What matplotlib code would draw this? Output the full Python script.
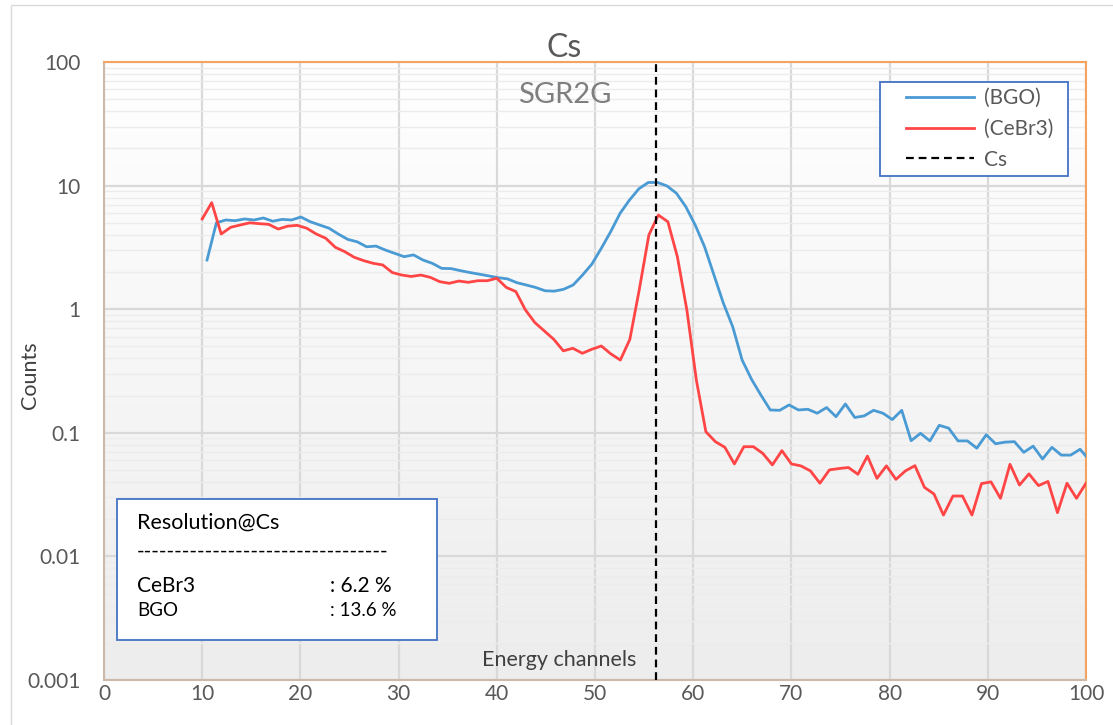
import numpy as np
import matplotlib.pyplot as plt
from matplotlib.patches import Rectangle
from matplotlib.colors import LinearSegmentedColormap

plt.rcParams['font.family'] = ['Lato', 'DejaVu Sans']

# CeBr3 spectrum (counts per channel), channels 10..100
cebr3_x = np.linspace(10, 100, 94)
cebr3 = [5.37, 7.28, 4.06, 4.6, 4.8, 5.0, 4.92, 4.86, 4.45, 4.7,
         4.77, 4.52, 4.06, 3.75, 3.17, 2.92, 2.63, 2.47, 2.35, 2.28,
         1.98, 1.89, 1.84, 1.89, 1.81, 1.67, 1.62, 1.69, 1.65, 1.70,
         1.70, 1.78, 1.50, 1.39, 0.99, 0.78, 0.667, 0.57, 0.46, 0.483,
         0.44, 0.474, 0.504, 0.435, 0.388, 0.57, 1.45, 3.98, 5.78, 5.1,
         2.66, 0.985, 0.267, 0.102, 0.0848, 0.0763, 0.056, 0.0772, 0.0772, 0.068,
         0.055, 0.0717, 0.056, 0.054, 0.0492, 0.0391, 0.0501, 0.0514, 0.0524, 0.0462,
         0.0648, 0.0428, 0.054, 0.042, 0.0492, 0.0542, 0.0362, 0.032, 0.0216, 0.0308,
         0.0308, 0.0216, 0.0388, 0.0401, 0.0295, 0.0556, 0.0378, 0.0465, 0.0374, 0.0404,
         0.0226, 0.0391, 0.0295, 0.0391]

# BGO spectrum, its own channel calibration
bgo_x = 10.49 + 0.956 * np.arange(95)
bgo = [2.5, 5.0, 5.27, 5.2, 5.37, 5.27, 5.47, 5.15, 5.33, 5.27,
       5.57, 5.1, 4.8, 4.52, 4.05, 3.67, 3.51, 3.2, 3.24, 3.01,
       2.83, 2.66, 2.75, 2.5, 2.35, 2.14, 2.13, 2.05, 1.98, 1.92,
       1.86, 1.8, 1.76, 1.64, 1.57, 1.5, 1.41, 1.40, 1.45, 1.57,
       1.89, 2.32, 3.11, 4.24, 5.97, 7.64, 9.42, 10.6, 10.6, 9.93,
       8.67, 6.75, 4.8, 3.2, 1.89, 1.12, 0.72, 0.388, 0.271, 0.202,
       0.153, 0.152, 0.168, 0.153, 0.155, 0.144, 0.160, 0.135, 0.171, 0.133,
       0.137, 0.152, 0.144, 0.128, 0.152, 0.0863, 0.099, 0.086, 0.115, 0.109,
       0.086, 0.086, 0.0751, 0.0964, 0.0815, 0.084, 0.0848, 0.0695, 0.078, 0.0614,
       0.0763, 0.066, 0.066, 0.0736, 0.06]

cs_peak = 56.26
yticks = [0.001, 0.01, 0.1, 1, 10, 100]
ytick_labels = ['0.001', '0.01', '0.1', '1', '10', '100']
xticks = list(range(0, 101, 10))

res_names = ['CeBr3', 'BGO']
res_values = [': 6.2 %', ': 13.6 %']

blue = '#4A9AD4'
red = '#FF4545'
txt = '#595959'

fig = plt.figure(figsize=(11.13, 7.25), dpi=100)
ax = fig.add_axes([104/1113, 1-680/725, 982/1113, 618/725])

# gradient plot-area fill
cmap = LinearSegmentedColormap.from_list('bg', ['#FFFFFF', '#EDEDED'])
ax.imshow(np.linspace(0, 1, 256).reshape(-1, 1), cmap=cmap, aspect='auto',
          extent=(0, 1, 0, 1), transform=ax.transAxes, zorder=0)

ax.plot(bgo_x, bgo, color=blue, lw=2, label='(BGO)', zorder=3)
ax.plot(cebr3_x, cebr3, color=red, lw=2, label='(CeBr3)', zorder=3)
ax.axvline(cs_peak, color='black', lw=1.6, ls=(0, (3.5, 2.2)), label='Cs', zorder=4)

ax.set_yscale('log')
ax.set_xlim(0, 100)
ax.set_ylim(0.001, 100)
ax.set_yticks(yticks)
ax.set_yticklabels(ytick_labels)
ax.set_xticks(xticks)
ax.tick_params(axis='both', which='both', length=0, labelsize=15, labelcolor=txt)
ax.tick_params(axis='y', pad=17)
ax.tick_params(axis='x', pad=3)

ax.grid(True, which='major', color='#D9D9D9', lw=1.6, zorder=1)
ax.grid(True, which='minor', axis='y', color='#ECECEC', lw=1.0, zorder=1)
ax.set_axisbelow(True)

for s in ['top', 'right']:
    ax.spines[s].set_color('#F4A460')
    ax.spines[s].set_linewidth(1.5)
for s in ['left', 'bottom']:
    ax.spines[s].set_color('#CDB8AA')
    ax.spines[s].set_linewidth(1.5)

ax.set_ylabel('Counts', fontsize=15.5, color='#404040')
ax.yaxis.set_label_coords(-0.065, 0.494)

ax.text(0.469, 1.022, 'Cs', transform=ax.transAxes, ha='center', va='center',
        fontsize=23, color=txt)
ax.text(0.469, 0.947, 'SGR2G', transform=ax.transAxes, ha='center', va='center',
        fontsize=21, color='#7F7F7F')
ax.text(0.464, 0.032, 'Energy channels', transform=ax.transAxes, ha='center',
        va='center', fontsize=15.5, color='#404040')

# legend box drawn separately, legend entries inside it
ax.add_patch(Rectangle((0.790, 0.8155), 0.1914, 0.1521, transform=ax.transAxes,
                       facecolor='white', edgecolor='#4472C4', lw=1.3, zorder=5))
leg = ax.legend(loc='upper left', bbox_to_anchor=((906-104)/982, (680-88)/618),
                borderaxespad=0, borderpad=0, frameon=False, fontsize=15,
                handlelength=3.25, labelspacing=0.52, handletextpad=0.5,
                labelcolor=txt)
leg.set_zorder(6)

# resolution box
ax.add_patch(Rectangle((0.0132, 0.0647), 0.3259, 0.2282, transform=ax.transAxes,
                       facecolor='white', edgecolor='#4472C4', lw=1.3, zorder=5))
ax.text(0.0336, 0.254, 'Resolution@Cs', transform=ax.transAxes, va='center',
        fontsize=15.5, color='black', zorder=6)
ax.text(0.0336, 0.207, '-' * 33, transform=ax.transAxes, va='center',
        fontsize=15, color='black', zorder=6)
ax.text(0.0336, 0.152, res_names[0], transform=ax.transAxes, va='center',
        fontsize=15, color='black', zorder=6)
ax.text(0.230, 0.152, res_values[0], transform=ax.transAxes, va='center',
        fontsize=15, color='black', zorder=6)
ax.text(0.0336, 0.1117, res_names[1], transform=ax.transAxes, va='center',
        fontsize=13.5, color='black', zorder=6)
ax.text(0.230, 0.1117, res_values[1], transform=ax.transAxes, va='center',
        fontsize=13.5, color='black', zorder=6)

# chart area border
fig.add_artist(Rectangle((11/1113, -0.1), 1.2, 1.1 - 5/725, transform=fig.transFigure,
                         fill=False, edgecolor='#D9D9D9', lw=1))

fig.savefig('out.png', dpi=100)
